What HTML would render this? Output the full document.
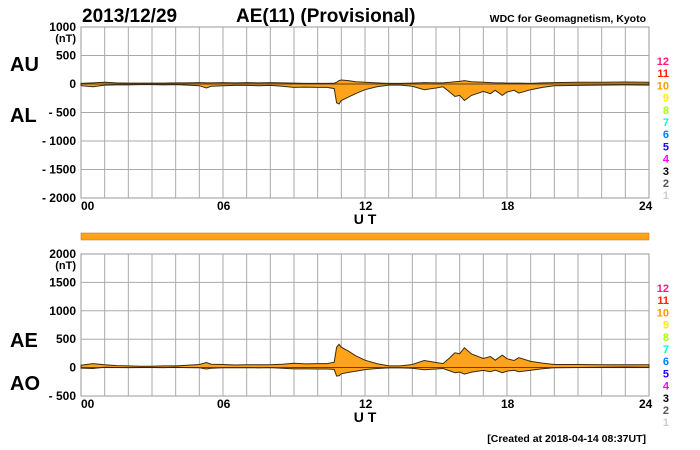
<!DOCTYPE html>
<html><head><meta charset="utf-8">
<style>
body{margin:0;background:#fff;}
svg{display:block;font-family:"Liberation Sans",Arial,sans-serif;}
</style></head>
<body>
<svg id="c" width="700" height="450" viewBox="0 0 700 450">
<text x="82" y="22" font-size="19" font-weight="bold">2013/12/29</text>
<text x="236" y="22" font-size="19" font-weight="bold">AE(11) (Provisional)</text>
<text x="646" y="22" font-size="10.5" font-weight="bold" text-anchor="end">WDC for Geomagnetism, Kyoto</text>
<text x="10" y="71" font-size="20" font-weight="bold">AU</text>
<text x="10" y="122" font-size="20" font-weight="bold">AL</text>
<text x="10" y="347" font-size="20" font-weight="bold">AE</text>
<text x="10" y="390" font-size="20" font-weight="bold">AO</text>
<rect x="81" y="233" width="568" height="7" fill="#ffa31a" stroke="#c07000" stroke-width="0.5"/>
<text x="646" y="442" font-size="10.5" font-weight="bold" text-anchor="end">[Created at 2018-04-14 08:37UT]</text>
<g id="g"></g>
</svg>
<script>
const hours = [0,0.5,1,1.5,2,2.5,3,3.5,4,4.5,5,5.3,5.5,6,6.5,7,7.5,8,8.5,9,9.5,10,10.4,10.7,10.8,10.9,11,11.3,11.6,12,12.5,13,13.5,14,14.5,15,15.3,15.6,15.8,16,16.2,16.5,17,17.3,17.5,17.8,18,18.3,18.5,19,19.5,20,21,22,23,24];
const auValues = [10,20,30,20,15,15,15,15,20,20,25,20,20,25,20,25,20,25,20,15,10,10,10,15,30,60,70,60,40,30,20,10,10,15,25,20,20,30,40,45,60,40,30,25,20,20,15,15,15,10,20,25,30,30,35,30];
const alValues = [-30,-50,-20,-15,-15,-10,-10,-15,-10,-20,-30,-70,-40,-30,-25,-25,-30,-25,-40,-60,-55,-60,-60,-80,-330,-350,-290,-230,-170,-100,-50,-20,-20,-40,-100,-70,-50,-150,-220,-200,-290,-200,-130,-170,-110,-200,-140,-110,-160,-100,-60,-30,-25,-20,-15,-20];
const topTicks = ["1000","500","0","- 500","- 1000","- 1500","- 2000"];
const botTicks = ["2000","1500","1000","500","0","- 500"];
const hourTicks = ["00","06","12","18","24"];
const stationNums = ["12","11","10","9","8","7","6","5","4","3","2","1"];
const stationColors = ["#ff1a80","#ff2000","#ff9900","#ffee00","#aaff00","#00ffcc","#0080ff","#2000ff","#ff00ff","#000000","#555555","#cccccc"];

const NS="http://www.w3.org/2000/svg", g=document.getElementById('g');
const X0=81,X1=649;
function xs(h){return X0+(X1-X0)*h/24;}
function mk(t,a){const e=document.createElementNS(NS,t);for(const k in a)e.setAttribute(k,a[k]);g.appendChild(e);return e;}
function panel(top,bot,vmax,vmin,ticks,name,upper,lower){
  const ys=v=>top+(bot-top)*(vmax-v)/(vmax-vmin);
  const bg=mk('rect',{x:X0,y:top,width:X1-X0,height:bot-top,fill:'#fff',stroke:'#999','stroke-width':1});
  
  
  for(let h=1;h<24;h++){const l=mk('line',{x1:xs(h),x2:xs(h),y1:top,y2:bot,stroke:'#aaa','stroke-width':1});
    
    }
  ticks.forEach((t,i)=>{const v=vmax-i*500,y=ys(v);
    if(i>0&&i<ticks.length-1){const l=mk('line',{x1:X0,x2:X1,y1:y,y2:y,stroke:'#aaa','stroke-width':1});
      
      }
    const tx=mk('text',{x:76,y:y+4,'font-size':12,'font-weight':'bold','text-anchor':'end'});tx.textContent=t;
    
    });
  const u=mk('text',{x:76,y:top+15,'font-size':11,'font-weight':'bold','text-anchor':'end'});u.textContent='(nT)';
  
  
  hourTicks.forEach((t,i)=>{const tx=mk('text',{x:xs(i*6)+(i==0?0:(i==4?-10:-6)),y:bot+12,'font-size':12,'font-weight':'bold'});tx.textContent=t;
    
    });
  const ut=mk('text',{x:365,y:bot+26,'font-size':14,'font-weight':'bold','text-anchor':'middle'});ut.textContent='U T';
  
  
  let d='M'+hours.map((h,i)=>xs(h).toFixed(1)+','+ys(upper[i]).toFixed(1)).join('L');
  d+='L'+hours.map((h,i)=>[xs(h),ys(lower[i])]).reverse().map(p=>p[0].toFixed(1)+','+p[1].toFixed(1)).join('L')+'Z';
  const a=mk('path',{d:d,fill:'#ffa31a',stroke:'#3a2a10','stroke-width':1});
  
  
  const z=mk('line',{x1:X0,x2:X1,y1:ys(0),y2:ys(0),stroke:'#222','stroke-width':0.8});
  
  
  stationNums.forEach((s,i)=>{const tx=mk('text',{x:669,y:top+38+i*12.2,'font-size':11,'font-weight':'bold','text-anchor':'end',fill:stationColors[i]});tx.textContent=s;
    
    });
}
const aeValues=auValues.map((u,i)=>u-alValues[i]);
const aoValues=auValues.map((u,i)=>(u+alValues[i])/2);
panel(27,198,1000,-2000,topTicks,'au-al',auValues,alValues);
panel(254,396,2000,-500,botTicks,'ae-ao',aeValues,aoValues);
</script>
</body></html>
